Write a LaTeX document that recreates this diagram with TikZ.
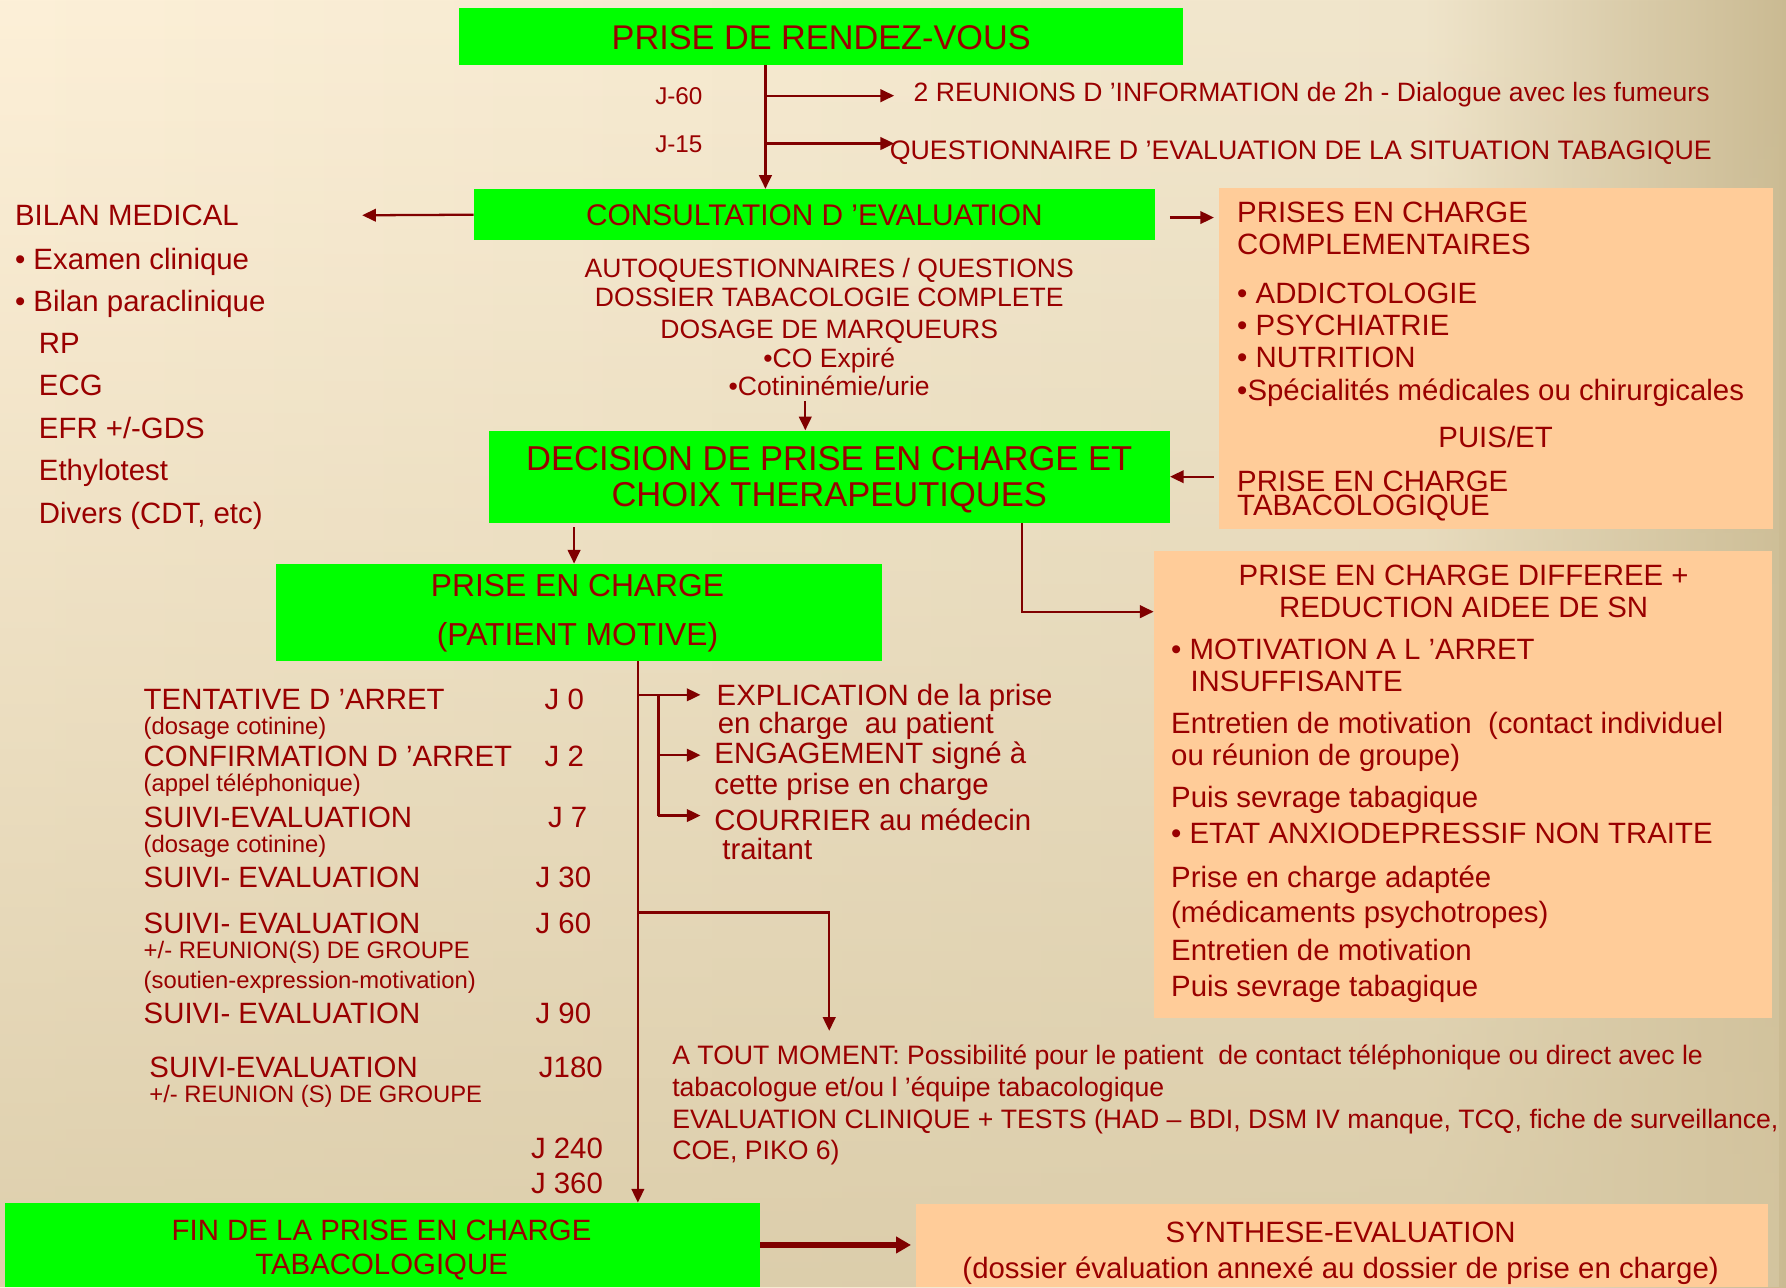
\documentclass[tikz,border=0pt]{standalone}
\usepackage{fontspec}
\setmainfont{Liberation Sans}
\usetikzlibrary{arrows.meta,fadings}
\definecolor{tred}{RGB}{153,0,0}
\definecolor{lred}{RGB}{128,0,0}
\definecolor{boxg}{RGB}{0,255,0}
\definecolor{peach}{RGB}{255,204,153}
\definecolor{bgA}{RGB}{253,240,216}
\definecolor{bgB}{RGB}{240,229,203}
\definecolor{bgC}{RGB}{202,186,146}
\definecolor{bgD}{RGB}{214,199,162}
\newcommand{\fsz}[1]{\fontsize{#1pt}{#1pt}\selectfont}
\tikzfading[name=bgfade, top color=transparent!100, bottom color=transparent!20]
\begin{document}
\begin{tikzpicture}[x=1pt,y=-1pt,
 tl/.style={inner sep=0pt, anchor=west, text=tred, font=\fsz{#1}, text height={0.716*#1pt}, text depth=0pt},
 tl/.default=25.8,
 tc/.style={tl=#1, anchor=center},
 tc/.default=25.8,
 gbox/.style={fill=boxg, inner sep=0pt},
 pbox/.style={fill=peach, inner sep=0pt},
 ln/.style={draw=lred, line width=2pt},
 arr/.style={ln, -{Triangle[length=12pt,width=11pt]}}]
\useasboundingbox (0,0) rectangle (1568,1130);
% background
\fill[left color=bgA, right color=bgB] (0,0) rectangle (1250,1130);
\fill[left color=bgB, right color=bgC] (1250,0) rectangle (1568,1130);
\fill[bgD, path fading=bgfade] (0,0) rectangle (1568,1130);

% boxes
\node[gbox, minimum width=636pt, minimum height=50pt] (rdv) at (721,32) {};
\node[tc=30.1] (rdvT) at (721,33) {PRISE DE RENDEZ-VOUS};
\node[gbox, minimum width=598pt, minimum height=45pt] (cons) at (715,188.5) {};
\node[tc=26.2] (consT) at (715,189) {CONSULTATION D ’EVALUATION};
\node[gbox, minimum width=598pt, minimum height=81pt] (dec) at (728,418.5) {};
\node[tc=30.3] (decT1) at (728,402) {DECISION DE PRISE EN CHARGE ET};
\node[tc=30.3] (decT2) at (728,434) {CHOIX THERAPEUTIQUES};
\node[gbox, minimum width=532pt, minimum height=85pt] (pec) at (508,537.5) {};
\node[tc=27.9] (pecT1) at (507,514) {PRISE EN CHARGE};
\node[tc=27.9] (pecT2) at (507,557) {(PATIENT MOTIVE)};
\node[gbox, minimum width=663pt, minimum height=74pt] (fin) at (335.5,1093) {};
\node[tc] (finT1) at (335,1080) {FIN DE LA PRISE EN CHARGE};
\node[tc] (finT2) at (335,1110) {TABACOLOGIQUE};
\node[pbox, minimum width=487pt, minimum height=299pt] (pc1) at (1313.5,314.5) {};
\node[pbox, minimum width=543pt, minimum height=410pt] (pc2) at (1284.5,689) {};
\node[pbox, minimum width=748pt, minimum height=73pt] (syn) at (1178,1093.5) {};
\node[tc] (synT1) at (1177,1082) {SYNTHESE-EVALUATION};
\node[tc] (synT2) at (1177,1113) {(dossier évaluation annexé au dossier de prise en charge)};

% top branch
\node[tc=21.3] (j60) at (596,84) {J-60};
\node[tc=21.3] (j15) at (596,126) {J-15};
\node[tl=23.3] (reu) at (802,81) {2 REUNIONS D ’INFORMATION de 2h - Dialogue avec les fumeurs};
\node[tl=23.5] (quest) at (781,132) {QUESTIONNAIRE D ’EVALUATION DE LA SITUATION TABAGIQUE};
\coordinate (vx) at (672,0);
\coordinate (a60) at (785,84);
\coordinate (a15) at (785,126);
\draw[arr] (vx |- rdv.south) -- (vx |- cons.north);
\draw[arr] (vx |- a60) -- (a60);
\draw[arr] (vx |- a15) -- (a15);

% bilan medical
\coordinate (bil) at (318,189);
\draw[arr] (cons.west) -- (bil);
\node[tl] (b0) at (13,189) {BILAN MEDICAL};
\node[tl] (b1) at (13,227) {• Examen clinique};
\node[tl] (b2) at (13,264) {• Bilan paraclinique};
\node[tl] (b3) at (34,301) {RP};
\node[tl] (b4) at (34,338) {ECG};
\node[tl] (b5) at (34,376) {EFR +/-GDS};
\node[tl] (b6) at (34,413) {Ethylotest};
\node[tl] (b7) at (34,450) {Divers (CDT, etc)};

% centre texts
\node[tc=23.3] (m1t) at (728,235) {AUTOQUESTIONNAIRES / QUESTIONS};
\node[tc=23.3] (m2t) at (728,261) {DOSSIER TABACOLOGIE COMPLETE};
\node[tc=23.3] (m3t) at (728,289) {DOSAGE DE MARQUEURS};
\node[tc=23.3] (m4t) at (728,314) {•CO Expiré};
\node[tc=23.3] (m5t) at (728,339) {•Cotininémie/urie};
\coordinate (m1) at (707,352);
\draw[arr] (m1) -- (m1 |- dec.north);

% prises en charge complementaires
\coordinate (c2a) at (1027,191);
\draw[arr] (c2a) -- ([xshift=-4pt]c2a -| pc1.west);
\draw[arr] ([xshift=-4pt]pc1.west |- dec.east) -- (dec.east);
\node[tl] (p1) at (1086,186) {PRISES EN CHARGE};
\node[tl] (p2) at (1086,214) {COMPLEMENTAIRES};
\node[tl] (p3) at (1086,257) {• ADDICTOLOGIE};
\node[tl] (p4) at (1086,285) {• PSYCHIATRIE};
\node[tl] (p5) at (1086,313) {• NUTRITION};
\node[tl] (p6) at (1086,342) {•Spécialités médicales ou chirurgicales};
\node[tc] (p7) at (1313,384) {PUIS/ET};
\node[tl] (p8) at (1086,422) {PRISE EN CHARGE};
\node[tl] (p9) at (1086,443) {TABACOLOGIQUE};

% decision -> prise en charge
\coordinate (m2) at (504,463);
\draw[arr] (m2) -- (m2 |- pec.north);

% decision -> differee
\coordinate (m3) at (897,0);
\coordinate (m3b) at (897,537);
\draw[arr] (m3 |- dec.south) -- (m3b) -- (m3b -| pc2.west);
\node[tc] (q1) at (1285,505) {PRISE EN CHARGE DIFFEREE +};
\node[tc] (q2) at (1285,533) {REDUCTION AIDEE DE SN};
\node[tl] (q3) at (1028,570) {• MOTIVATION A L ’ARRET};
\node[tl] (q4) at (1045,598) {INSUFFISANTE};
\node[tl] (q5) at (1028,635) {Entretien de motivation~ (contact individuel};
\node[tl] (q6) at (1028,663) {ou réunion de groupe)};
\node[tl] (q7) at (1028,700) {Puis sevrage tabagique};
\node[tl] (q8) at (1028,731) {• ETAT ANXIODEPRESSIF NON TRAITE};
\node[tl] (q9) at (1028,770) {Prise en charge adaptée};
\node[tl] (q10) at (1028,801) {(médicaments psychotropes)};
\node[tl] (q11) at (1028,834) {Entretien de motivation};
\node[tl] (q12) at (1028,866) {Puis sevrage tabagique};

% main timeline
\coordinate (vm) at (560,0);
\draw[arr] (vm |- pec.south) -- (vm |- fin.north);
\coordinate (e1) at (615,610);
\coordinate (e2) at (615,663);
\coordinate (e3) at (615,716);
\coordinate (vs) at (578,610);
\draw[arr] (vm |- e1) -- (e1);
\draw[ln] (vs) -- (vs |- e3);
\draw[arr] (vs |- e2) -- (e2);
\draw[arr] (vs |- e3) -- (e3);
\coordinate (t1) at (728,801);
\coordinate (t2) at (728,905);
\draw[arr] (vm |- t1) -- (t1) -- (t2);

\node[tl] (r1) at (629,610) {EXPLICATION de la prise};
\node[tl] (r2) at (630,635) {en charge~ au patient};
\node[tl] (r3) at (627,661) {ENGAGEMENT signé à};
\node[tl] (r4) at (627,688) {cette prise en charge};
\node[tl] (r5) at (627,720) {COURRIER au médecin};
\node[tl] (r6) at (634,745) {traitant};

\node[tl] (s1) at (126,614) {TENTATIVE D ’ARRET};
\node[tl=20.9] (s1b) at (126,637) {(dosage cotinine)};
\node[tl] (s2) at (126,664) {CONFIRMATION D ’ARRET};
\node[tl=20.9] (s2b) at (126,687) {(appel téléphonique)};
\node[tl] (s3) at (126,717) {SUIVI-EVALUATION};
\node[tl=20.9] (s3b) at (126,741) {(dosage cotinine)};
\node[tl] (s4) at (126,770) {SUIVI- EVALUATION};
\node[tl] (s5) at (126,810) {SUIVI- EVALUATION};
\node[tl=20.9] (s5b) at (126,834) {+/- REUNION(S) DE GROUPE};
\node[tl=20.9] (s5c) at (126,860) {(soutien-expression-motivation)};
\node[tl] (s6) at (126,889) {SUIVI- EVALUATION};
\node[tl] (s7) at (131,937) {SUIVI-EVALUATION};
\node[tl=20.9] (s7b) at (131,960) {+/- REUNION (S) DE GROUPE};

\node[tl] (d1) at (478,614) {J 0};
\node[tl] (d2) at (478,664) {J 2};
\node[tl] (d3) at (481,717) {J 7};
\node[tl] (d4) at (470,770) {J 30};
\node[tl] (d5) at (470,810) {J 60};
\node[tl] (d6) at (470,889) {J 90};
\node[tl] (d7) at (473,937) {J180};
\node[tl] (d8) at (466,1008) {J 240};
\node[tl] (d9) at (466,1039) {J 360};

\node[tl=23.4] (w1) at (590,926) {A TOUT MOMENT: Possibilité pour le patient~ de contact téléphonique ou direct avec le};
\node[tl=23.4] (w2) at (590,954) {tabacologue et/ou l ’équipe tabacologique};
\node[tl=23.4] (w3) at (590,982) {EVALUATION CLINIQUE + TESTS (HAD – BDI, DSM IV manque, TCQ, fiche de surveillance,};
\node[tl=23.4] (w4) at (590,1010) {COE, PIKO 6)};

% end
\draw[ln, line width=5pt, -{Triangle[length=13pt,width=14pt]}] (fin.east) -- ([xshift=-4pt]fin.east -| syn.west);
\end{tikzpicture}
\end{document}
